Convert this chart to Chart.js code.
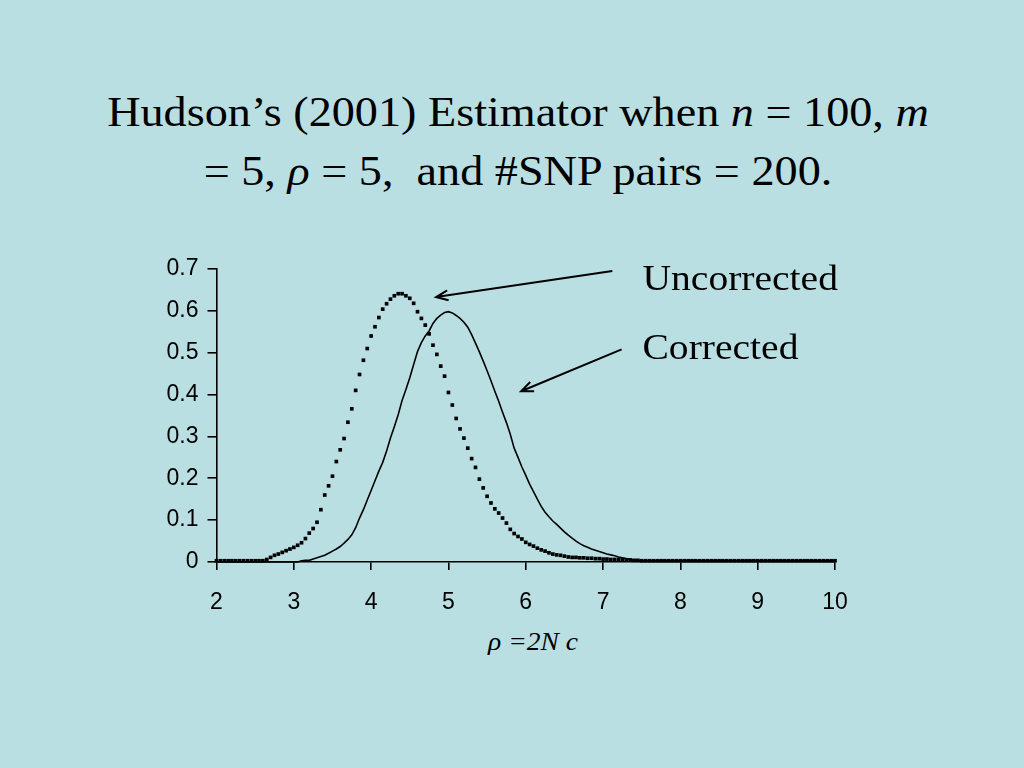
<!DOCTYPE html>
<html>
<head>
<meta charset="utf-8">
<script src="https://cdn.jsdelivr.net/npm/chart.js@4.4.1/dist/chart.umd.min.js"></script>
<style>
    html, body { margin: 0; padding: 0; }
    body { width: 1024px; height: 768px; background: #badfe3; position: relative; overflow: hidden; }
    #title {
        position: absolute; left: 6px; top: 83px; width: 1024px;
        text-align: center; font-family: "Liberation Serif", "Times New Roman", serif;
        font-size: 42px; line-height: 59px; color: #000;
        transform: scaleX(1.1); transform-origin: 512px 0;
    }
    #xtitle {
        position: absolute; left: 433px; top: 628px; width: 200px; text-align: center;
        font-family: "Liberation Serif", "Times New Roman", serif; font-style: italic;
        font-size: 25px; color: #000;
        transform: scaleX(1.1); transform-origin: 100px 0;
    }
    #wrap { position: absolute; left: 0; top: 0; width: 1024px; height: 768px; }
</style>
</head>
<body>
<div id="title">Hudson’s (2001) Estimator when <i>n</i> = 100, <i>m</i><br>= 5, <i>ρ</i> = 5,&nbsp; and #SNP pairs = 200.</div>
<div id="xtitle">ρ =2N c</div>
<div id="wrap"><canvas id="chart"></canvas></div>
<script>
// x 网格：2 到 10，步长 0.05
const xValues = Array.from({ length: 161 }, (_, i) => +(2 + i * 0.05).toFixed(2));

// 未校正（点线）
const uncorrected = [
    0.003, 0.003, 0.003, 0.003, 0.003, 0.003, 0.003, 0.003, 0.003, 0.003, 0.003, 0.003, 0.003,
    0.006, 0.011, 0.016, 0.019, 0.023, 0.027, 0.031, 0.035, 0.040, 0.046,
    0.056, 0.069, 0.080, 0.095, 0.125, 0.160, 0.182, 0.205, 0.240, 0.268,
    0.295, 0.334, 0.366, 0.410, 0.448, 0.482, 0.510, 0.540, 0.562, 0.584,
    0.604, 0.617, 0.628, 0.636, 0.641, 0.641, 0.636, 0.630, 0.618, 0.598,
    0.582, 0.566, 0.545, 0.518, 0.496, 0.468, 0.444, 0.405, 0.375, 0.343,
    0.318, 0.296, 0.272, 0.247, 0.226, 0.198, 0.177, 0.157, 0.141, 0.127,
    0.117, 0.105, 0.093, 0.078, 0.068, 0.061, 0.055, 0.047, 0.042, 0.038,
    0.033, 0.029, 0.026, 0.022, 0.019, 0.017, 0.016, 0.014, 0.012, 0.011,
    0.011, 0.010, 0.010, 0.009, 0.009, 0.008, 0.008, 0.007, 0.007, 0.006,
    0.006, 0.006, 0.005, 0.005, 0.005, 0.004, 0.004,
    0.003, 0.003, 0.003, 0.003, 0.003, 0.003, 0.003, 0.003, 0.003, 0.003,
    0.003, 0.003, 0.003, 0.003, 0.003, 0.003, 0.003, 0.003, 0.003, 0.003,
    0.003, 0.003, 0.003, 0.003, 0.003, 0.003, 0.003, 0.003, 0.003, 0.003,
    0.003, 0.003, 0.003, 0.003, 0.003, 0.003, 0.003, 0.003, 0.003, 0.003,
    0.003, 0.003, 0.003, 0.003, 0.003, 0.003, 0.003, 0.003, 0.003, 0.003,
    0.003
];

// 校正后（实线）
const corrected = [
    0, 0, 0, 0, 0, 0, 0, 0, 0, 0, 0, 0, 0, 0, 0, 0, 0, 0, 0, 0, 0, 0,
    0.003, 0.004, 0.004, 0.007, 0.010, 0.013, 0.016, 0.021, 0.026, 0.031,
    0.037, 0.045, 0.054, 0.065, 0.082, 0.105, 0.125, 0.148, 0.171, 0.194,
    0.217, 0.238, 0.265, 0.296, 0.323, 0.352, 0.386, 0.412, 0.440, 0.472,
    0.503, 0.524, 0.540, 0.552, 0.570, 0.582, 0.590, 0.596, 0.598, 0.595,
    0.589, 0.582, 0.573, 0.561, 0.543, 0.523, 0.502, 0.480, 0.457, 0.433,
    0.408, 0.384, 0.358, 0.333, 0.305, 0.272, 0.250, 0.227, 0.207, 0.186,
    0.168, 0.150, 0.133, 0.119, 0.108, 0.098, 0.090, 0.081, 0.072, 0.064,
    0.057, 0.050, 0.044, 0.039, 0.035, 0.031, 0.028, 0.025, 0.022, 0.019,
    0.017, 0.015, 0.012, 0.010, 0.008, 0.006, 0.005, 0.004,
    0.003, 0.003, 0.003, 0.003, 0.003, 0.003, 0.003, 0.003, 0.003, 0.003,
    0.003, 0.003, 0.003, 0.003, 0.003, 0.003, 0.003, 0.003, 0.003, 0.003,
    0.003, 0.003, 0.003, 0.003, 0.003, 0.003, 0.003, 0.003, 0.003, 0.003,
    0.003, 0.003, 0.003, 0.003, 0.003, 0.003, 0.003, 0.003, 0.003, 0.003,
    0.003, 0.003, 0.003, 0.003, 0.003, 0.003, 0.003, 0.003, 0.003, 0.003,
    0.003
];

const xTicks = [2, 3, 4, 5, 6, 7, 8, 9, 10];
const yTicks = ["0", "0.1", "0.2", "0.3", "0.4", "0.5", "0.6", "0.7"];

// 注释：文字和箭头（数据坐标）
const notes = [
    { text: "Uncorrected", at: [7.51, 0.671], from: [7.12, 0.695], to: [4.84, 0.633] },
    { text: "Corrected", at: [7.51, 0.506], from: [7.24, 0.508], to: [5.94, 0.408] }
];

const toPoints = arr => arr.map((v, i) => ({ x: xValues[i], y: v }));

const notePlugin = {
    id: "notes",
    afterDraw(chart) {
        const ctx = chart.ctx;
        const xs = chart.scales.x, ys = chart.scales.y;
        ctx.save();
        ctx.strokeStyle = "#000";
        ctx.fillStyle = "#000";
        ctx.lineWidth = 2;
        notes.forEach(n => {
            const x1 = xs.getPixelForValue(n.from[0]), y1 = ys.getPixelForValue(n.from[1]);
            const x2 = xs.getPixelForValue(n.to[0]), y2 = ys.getPixelForValue(n.to[1]);
            ctx.beginPath();
            ctx.moveTo(x1, y1);
            ctx.lineTo(x2, y2);
            const a = Math.atan2(y1 - y2, x1 - x2);
            const len = 13, spread = 0.4;
            ctx.moveTo(x2 + len * Math.cos(a - spread), y2 + len * Math.sin(a - spread));
            ctx.lineTo(x2, y2);
            ctx.lineTo(x2 + len * Math.cos(a + spread), y2 + len * Math.sin(a + spread));
            ctx.stroke();
            // 文字稍微横向拉宽，跟原图一致
            const tx = xs.getPixelForValue(n.at[0]), ty = ys.getPixelForValue(n.at[1]);
            ctx.save();
            ctx.translate(tx, ty);
            ctx.scale(1.13, 1);
            ctx.font = '35px "Liberation Serif", "Times New Roman", serif';
            ctx.textBaseline = "middle";
            ctx.fillText(n.text, 0, 0);
            ctx.restore();
        });
        ctx.restore();
    }
};

const tickFont = { family: '"Liberation Sans", Arial, sans-serif', size: 23 };

new Chart(document.getElementById("chart"), {
    type: "line",
    data: {
        datasets: [
            {
                label: "Uncorrected",
                data: toPoints(uncorrected),
                showLine: false,
                pointStyle: "rect",
                pointRadius: 2.6,
                pointBorderWidth: 0,
                pointBackgroundColor: "#000",
                clip: false
            },
            {
                label: "Corrected",
                data: toPoints(corrected),
                borderColor: "#000",
                borderWidth: 1.6,
                pointRadius: 0,
                tension: 0,
                clip: false
            }
        ]
    },
    options: {
        responsive: true,
        maintainAspectRatio: false,
        animation: false,
        layout: { padding: { left: 0, right: 189, top: 269, bottom: 0 } },
        plugins: { legend: { display: false }, tooltip: { enabled: false } },
        scales: {
            x: {
                type: "linear", min: 2, max: 10,
                afterBuildTicks: s => { s.ticks = xTicks.map(v => ({ value: v })); },
                afterFit: s => { s.height = 206; s.paddingLeft = 0; s.paddingRight = 0; },
                border: { color: "#000", width: 1.6 },
                grid: { drawOnChartArea: false, drawTicks: true, tickLength: 8, color: "#000", lineWidth: 1.6 },
                ticks: { color: "#000", font: tickFont, padding: 19, maxRotation: 0 }
            },
            y: {
                min: 0, max: 0.7,
                afterBuildTicks: s => { s.ticks = yTicks.map(v => ({ value: +v })); },
                afterFit: s => { s.width = 216.5; s.paddingTop = 0; s.paddingBottom = 0; },
                border: { color: "#000", width: 1.6 },
                grid: { drawOnChartArea: false, drawTicks: true, tickLength: 9, color: "#000", lineWidth: 1.6 },
                ticks: { color: "#000", font: tickFont, padding: 9, callback: (v, i) => yTicks[i] }
            }
        }
    },
    plugins: [notePlugin]
});
</script>
</body>
</html>
